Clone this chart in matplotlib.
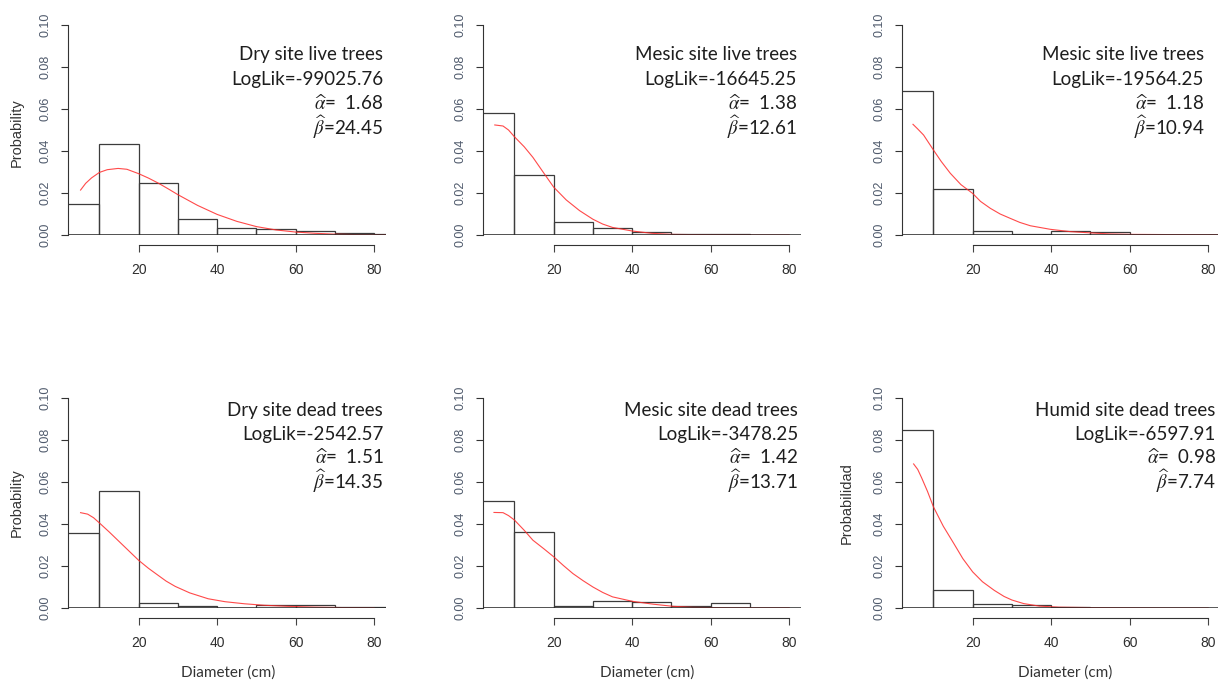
import matplotlib.pyplot as plt

plt.rcParams['font.family'] = 'Liberation Sans'
plt.rcParams['mathtext.fontset'] = 'stix'

# histogram densities per 10 cm class
bin_left = [0, 10, 20, 30, 40, 50, 60, 70, 80]
dry_live = [0.0149, 0.0433, 0.0248, 0.0077, 0.0032, 0.0027, 0.0019, 0.0008, 0.0005]
mesic_live = [0.0583, 0.0287, 0.0060, 0.0032, 0.0014, 0.0005, 0.0005, 0.0]
mesic_live2 = [0.0686, 0.0217, 0.0019, 0.0007, 0.0020, 0.0014, 0.0002, 0.0002, 0.0002]
dry_dead = [0.0356, 0.0556, 0.0025, 0.0008, 0.0001, 0.0014, 0.0016, 0.0004, 0.0003]
mesic_dead = [0.0511, 0.0363, 0.0011, 0.0035, 0.0028, 0.0011, 0.0024, 0.0002]
humid_dead = [0.0847, 0.0086, 0.0021, 0.0013, 0.0007, 0.0002, 0.0001, 0.0002]

# fitted curves
fit_x1 = [5.2, 6.5, 8, 10, 12, 14.75, 17, 20, 22.5, 25, 27.5, 30, 35, 40, 45, 50, 55, 60, 65, 70, 75, 80, 83]
fit_y1 = [0.0214, 0.0246, 0.0272, 0.0298, 0.0311, 0.0317, 0.0313, 0.0292, 0.0271, 0.0247,
          0.0220, 0.0192, 0.0141, 0.0098, 0.0065, 0.0040, 0.0024, 0.0014, 0.0008, 0.0004,
          0.0002, 0.0001, 0.0001]
fit_x2 = [5, 7.1, 8.5, 10, 12.5, 14.7, 17.3, 20, 23.2, 26.6, 30, 32.5, 35, 40, 45, 50, 60, 70, 80]
fit_y2 = [0.0524, 0.0519, 0.0500, 0.0468, 0.0420, 0.0370, 0.0300, 0.0228, 0.0167, 0.0116,
          0.0075, 0.0052, 0.0036, 0.0019, 0.0008, 0.0003, 0.0001, 0.0, 0.0]
fit_x3 = [4.8, 6, 7.5, 10, 12, 14.3, 17, 20, 22, 24.5, 27, 29.6, 32, 34.7, 39.8, 44.9, 50, 55, 60, 70, 83]
fit_y3 = [0.0527, 0.0505, 0.0476, 0.0405, 0.0350, 0.0294, 0.0240, 0.0198, 0.0160, 0.0127,
          0.0100, 0.0079, 0.0060, 0.0044, 0.0027, 0.0016, 0.0010, 0.0005, 0.0003, 0.0002, 0.0001]
fit_x4 = [5.2, 7, 8.5, 10, 12.5, 15, 17.5, 20, 22.5, 25, 27, 29.3, 33, 37.7, 42, 47, 52, 58, 65, 72, 80]
fit_y4 = [0.0454, 0.0447, 0.0430, 0.0405, 0.0362, 0.0317, 0.0272, 0.0227, 0.0189, 0.0155,
          0.0128, 0.0103, 0.0072, 0.0044, 0.0030, 0.0020, 0.0013, 0.0008, 0.0004, 0.0002, 0.0001]
fit_x5 = [4.8, 7.1, 8.5, 10, 12.5, 14.7, 17.5, 20, 22.5, 24.9, 27.5, 30, 32.5, 35, 40, 45.4, 50.4, 55.5, 65, 80]
fit_y5 = [0.0455, 0.0454, 0.0440, 0.0419, 0.0370, 0.0323, 0.0282, 0.0244, 0.0202, 0.0164,
          0.0130, 0.0100, 0.0074, 0.0053, 0.0032, 0.0018, 0.0008, 0.0003, 0.0001, 0.0001]
fit_x6 = [4.96, 6, 7, 8.5, 10, 12.5, 15.2, 17.5, 20, 22.5, 25.5, 28, 30, 33, 37, 42, 50, 60, 70, 80]
fit_y6 = [0.0686, 0.0660, 0.0620, 0.0555, 0.0482, 0.0390, 0.0307, 0.0235, 0.0172, 0.0125,
          0.0084, 0.0055, 0.0038, 0.0021, 0.0009, 0.0004, 0.0002, 0.0001, 0.0, 0.0]

titles = ['Dry site live trees', 'Mesic site live trees', 'Mesic site live trees',
          'Dry site dead trees', 'Mesic site dead trees', 'Humid site dead trees']
loglik = ['-99025.76', '-16645.25', '-19564.25', '-2542.57', '-3478.25', '-6597.91']
alpha_hat = ['1.68', '1.38', '1.18', '1.51', '1.42', '0.98']
beta_hat = ['24.45', '12.61', '10.94', '14.35', '13.71', '7.74']

y_ticks = [0, 0.02, 0.04, 0.06, 0.08, 0.10]
y_ticklabels = ['0.00', '0.02', '0.04', '0.06', '0.08', '0.10']
x_ticks = [20, 40, 60, 80]

hists = [dry_live, mesic_live, mesic_live2, dry_dead, mesic_dead, humid_dead]
fits = [(fit_x1, fit_y1), (fit_x2, fit_y2), (fit_x3, fit_y3),
        (fit_x4, fit_y4), (fit_x5, fit_y5), (fit_x6, fit_y6)]

fig = plt.figure(figsize=(12.18, 6.81), dpi=100)

W, H = 1218, 681
lefts_px = [68, 483, 902]
tops_px = [25, 398]
ax_w, ax_h = 318, 210
text_right = [0.991, 0.987, 0.950, 0.991, 0.991, 0.987]
text_base = [[0.833, 0.714, 0.595, 0.476], [0.914, 0.800, 0.686, 0.567]]

anno_font = 'Lato'

for i in range(6):
    row, col = divmod(i, 3)
    ax = fig.add_axes([lefts_px[col] / W, (H - tops_px[row] - ax_h) / H, ax_w / W, ax_h / H])
    dens = hists[i]
    ax.bar(bin_left[:len(dens)], dens, width=10, align='edge', fill=False,
           edgecolor='#3c3c3c', linewidth=0.9)
    fx, fy = fits[i]
    ax.plot(fx, fy, color='#ff2a2a', lw=0.8, alpha=0.85)
    ax.axhline(0, color='#2a2a2a', lw=1.1)
    ax.set_xlim(2.0, 83.0)
    ax.set_ylim(0, 0.10)

    for s in ['top', 'right']:
        ax.spines[s].set_visible(False)
    ax.spines['left'].set_bounds(0, 0.10)
    ax.spines['left'].set_color('#333333')
    ax.spines['bottom'].set_position(('outward', 7))
    ax.spines['bottom'].set_bounds(20, 80)
    ax.spines['bottom'].set_color('#333333')

    ax.set_yticks(y_ticks)
    ax.set_yticklabels(y_ticklabels, rotation=90, va='center', fontsize=9, color='#4f5a6c')
    ax.set_xticks(x_ticks)
    ax.set_xticklabels([str(t) for t in x_ticks], fontsize=10, color='#2e2e2e')
    ax.tick_params(axis='y', length=5, pad=7, color='#333333')
    ax.tick_params(axis='x', length=5, pad=8, color='#444444')

    lines = [titles[i], 'LogLik=' + loglik[i],
             r'$\widehat{\alpha}$=  ' + alpha_hat[i], r'$\widehat{\beta}$=' + beta_hat[i]]
    for yb, txt in zip(text_base[row], lines):
        ax.text(text_right[i], yb, txt, transform=ax.transAxes, ha='right', va='baseline',
                fontsize=13.5, family=anno_font, color='#1e1e1e')

# axis titles
fig.text(17 / W, 1 - 133 / H, 'Probability', rotation=90, ha='center', va='center',
         fontsize=10.5, color='#333333')
fig.text(17 / W, 1 - 503 / H, 'Probability', rotation=90, ha='center', va='center',
         fontsize=10.5, color='#333333')
fig.text(847 / W, 1 - 503 / H, 'Probabilidad', rotation=90, ha='center', va='center',
         fontsize=10.5, color='#333333')
for xc in [228, 647, 1065]:
    fig.text(xc / W, 1 - 673 / H, 'Diameter (cm)', ha='center', va='center',
             fontsize=11, family=anno_font, color='#333333')

fig.savefig('out.png', dpi=100)
